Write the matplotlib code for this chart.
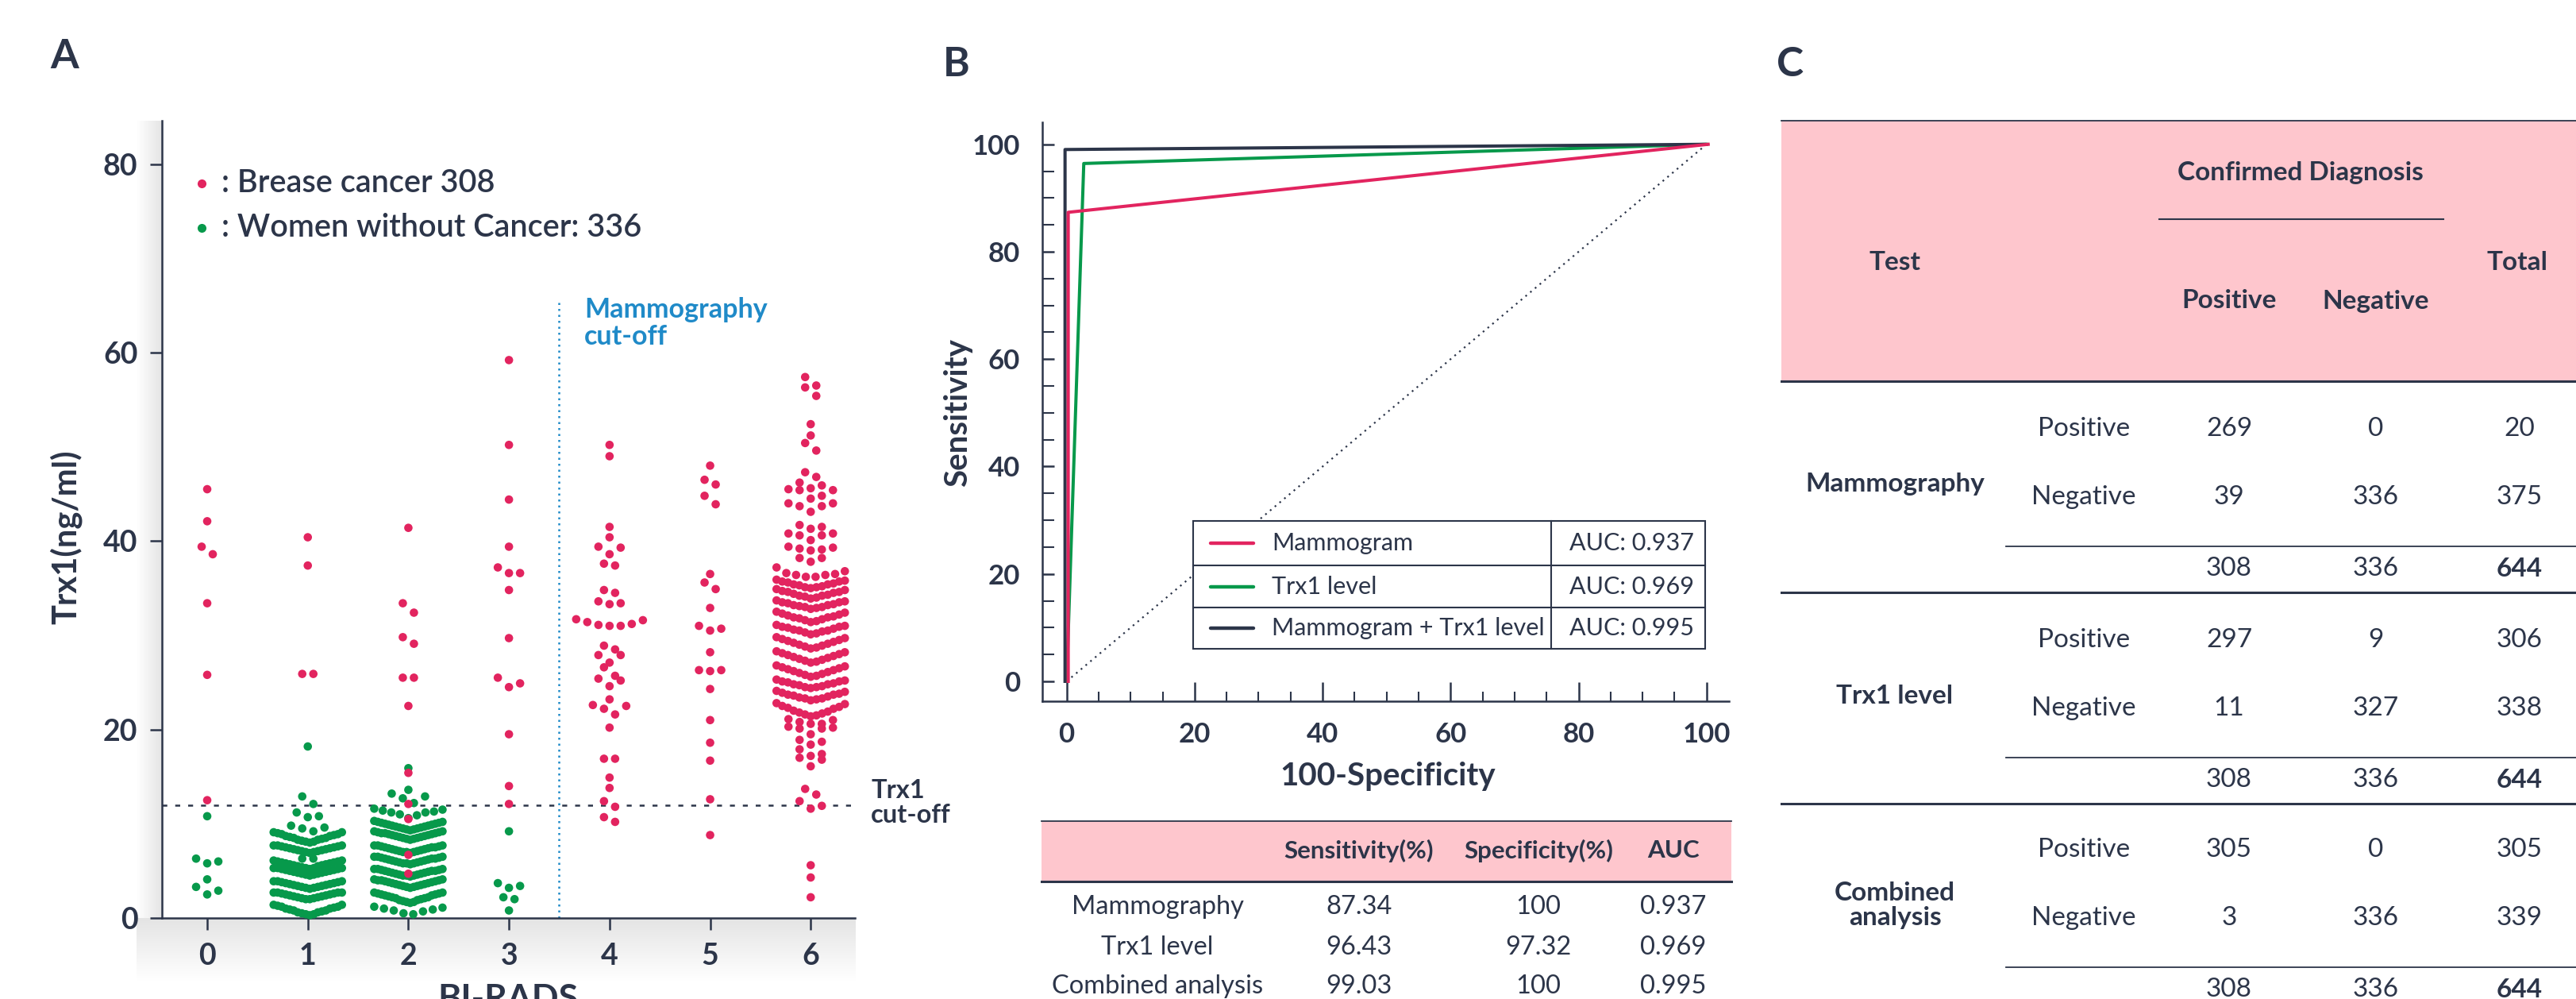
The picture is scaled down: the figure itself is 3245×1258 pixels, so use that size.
import numpy as np
import matplotlib
matplotlib.use('Agg')
import matplotlib.pyplot as plt
import matplotlib.transforms as mtransforms
from matplotlib.colors import LinearSegmentedColormap
from matplotlib.patches import Rectangle

W, H = 3245, 1258
NAVY = '#2c3549'
RED = '#e2245f'
GREEN = '#07994b'
BLUE = '#1f8ac8'
PINK = '#fec6cd'

plt.rcParams['font.family'] = ['Lato', 'DejaVu Sans']

# ---------------- panel A data (Trx1 ng/ml by BI-RADS) ----------------
birads = [0, 1, 2, 3, 4, 5, 6]
trx1_cutoff = 12.0
mammo_cutoff = 3.5

cancer_vals = [
    [45.5, 42.1, 39.4, 38.6, 33.4, 25.8, 12.5],
    [40.4, 37.4, 25.9, 25.9],
    [41.4, 33.4, 32.4, 29.8, 29.1, 25.5, 25.5, 22.5, 15.4, 12.1, 10.5, 6.7, 4.7],
    [59.2, 50.2, 44.4, 39.4, 37.2, 36.6, 36.6, 34.8, 29.7, 25.5, 24.9, 24.5, 19.5, 14.0, 12.1],
    [50.2, 49.0, 41.5, 40.4, 39.4, 39.3, 38.6, 37.6, 37.4, 34.8, 34.5, 33.6, 33.4, 33.3,
     31.7, 31.6, 31.4, 31.2, 31.1, 31.0, 31.0, 28.9, 28.5, 27.9, 27.9, 27.1, 26.6, 25.7,
     25.4, 25.2, 24.6, 23.2, 22.6, 22.5, 22.2, 21.6, 20.2, 16.9, 16.9, 14.9, 13.8, 12.4,
     11.8, 10.7, 10.2],
    [48.0, 46.5, 46.0, 44.8, 43.9, 36.5, 35.6, 34.9, 32.9, 31.0, 30.7, 30.5, 28.2, 26.3,
     26.3, 26.2, 24.3, 21.0, 18.6, 16.7, 12.6, 8.8],
    [57.4, 56.5, 56.3, 55.4, 52.4, 51.2, 50.4, 49.6, 47.3, 46.8, 46.2, 45.9, 45.5, 45.4,
     45.4, 45.6, 44.8, 44.5, 44.0, 43.7, 43.7, 44.0, 43.1, 41.5, 41.7, 41.3, 40.8, 40.6,
     40.6, 40.8, 40.1, 39.4, 39.2, 39.0, 39.1, 39.3, 38.2, 37.8, 38.2, 37.2, 36.6, 36.4,
     36.5, 36.2, 36.2, 36.8, 36.4,
     21.1, 20.8, 20.1, 20.6, 20.2, 20.3, 20.6, 20.1, 21.0, 19.5, 18.4, 17.9, 18.9, 18.7,
     17.2, 17.4, 16.8, 17.0, 16.1, 13.7, 13.1, 12.4, 11.9, 11.6, 5.6, 4.3, 2.2],
]

# dense horizontal bands of the swarm (one list per visible band)
cancer_bands = [[], [], [], [], [], [], [
    [35.0, 35.1, 35.1, 35.2, 35.3, 35.4, 35.4, 35.5, 35.6, 35.7, 35.7, 35.8, 35.9],
    [33.9, 34.0, 34.1, 34.2, 34.2, 34.3, 34.4, 34.5, 34.6, 34.6, 34.7, 34.8, 34.9],
    [32.8, 32.9, 33.0, 33.0, 33.1, 33.2, 33.2, 33.3, 33.4, 33.5, 33.5, 33.6, 33.7],
    [31.4, 31.5, 31.6, 31.7, 31.8, 31.9, 31.9, 32.0, 32.1, 32.2, 32.3, 32.4, 32.5],
    [30.1, 30.2, 30.3, 30.4, 30.5, 30.5, 30.6, 30.7, 30.8, 30.9, 30.9, 31.0, 31.1],
    [28.6, 28.7, 28.8, 28.9, 29.0, 29.1, 29.2, 29.3, 29.4, 29.5, 29.6, 29.7, 29.8],
    [27.1, 27.2, 27.3, 27.4, 27.5, 27.6, 27.7, 27.8, 27.9, 28.0, 28.1, 28.2, 28.3],
    [25.6, 25.7, 25.8, 25.9, 26.0, 26.1, 26.2, 26.3, 26.4, 26.5, 26.6, 26.7, 26.8],
    [24.4, 24.5, 24.5, 24.6, 24.7, 24.8, 24.8, 24.9, 25.0, 25.1, 25.1, 25.2, 25.3],
    [23.1, 23.2, 23.3, 23.3, 23.4, 23.5, 23.6, 23.7, 23.7, 23.8, 23.9, 24.0, 24.1],
    [21.4, 21.5, 21.6, 21.7, 21.8, 21.9, 22.0, 22.2, 22.3, 22.4, 22.5, 22.7, 22.8],
]]

control_vals = [
    [10.8, 6.3, 6.0, 5.8, 4.1, 3.3, 2.9, 2.5],
    [18.2, 12.9, 12.1, 11.2, 10.8, 10.7, 9.8, 9.6, 9.5, 9.2, 6.3, 6.3],
    [15.9, 13.6, 13.2, 12.9, 12.7, 12.2, 11.6, 11.5, 11.4, 11.3, 11.2, 11.2, 11.0, 10.9, 10.6],
    [9.2, 3.7, 3.4, 3.2, 2.2, 2.0, 0.8],
    [], [], [],
]

control_bands = [[], [
    [8.0, 8.1, 8.1, 8.2, 8.3, 8.3, 8.4, 8.5, 8.5, 8.6, 8.7, 8.7, 8.8, 8.9, 8.9, 9.0, 9.1, 9.1],
    [6.9, 7.0, 7.0, 7.1, 7.1, 7.2, 7.2, 7.3, 7.3, 7.4, 7.4, 7.5, 7.5, 7.6, 7.6, 7.7, 7.7, 7.7],
    [5.2, 5.3, 5.3, 5.4, 5.5, 5.5, 5.6, 5.6, 5.7, 5.7, 5.8, 5.8, 5.9, 5.9, 6.0, 6.0, 6.1, 6.1],
    [4.5, 4.6, 4.6, 4.7, 4.7, 4.8, 4.8, 4.9, 4.9, 5.0, 5.0, 5.1, 5.1, 5.2, 5.2, 5.3, 5.3, 5.3],
    [3.1, 3.2, 3.2, 3.3, 3.3, 3.4, 3.4, 3.5, 3.5, 3.6, 3.6, 3.7, 3.7, 3.8, 3.8, 3.9, 3.9, 3.9],
    [2.0, 2.0, 2.1, 2.1, 2.2, 2.2, 2.3, 2.3, 2.4, 2.4, 2.5, 2.5, 2.6, 2.6, 2.7, 2.7, 2.7, 2.7],
    [0.3, 0.4, 0.4, 0.5, 0.6, 0.6, 0.7, 0.8, 0.8, 0.9, 1.0, 1.0, 1.1, 1.2, 1.2, 1.3, 1.4, 1.4],
], [
    [9.3, 9.4, 9.4, 9.5, 9.5, 9.6, 9.6, 9.7, 9.7, 9.8, 9.8, 9.9, 9.9, 10.0, 10.0, 10.1, 10.1, 10.2, 10.2, 10.3],
    [8.3, 8.4, 8.4, 8.5, 8.5, 8.6, 8.6, 8.7, 8.7, 8.8, 8.8, 8.9, 8.9, 9.0, 9.0, 9.0, 9.1, 9.1, 9.2, 9.2],
    [6.9, 7.0, 7.0, 7.0, 7.1, 7.1, 7.2, 7.2, 7.3, 7.3, 7.4, 7.4, 7.5, 7.5, 7.5, 7.6, 7.6, 7.7, 7.7, 7.7],
    [5.7, 5.8, 5.8, 5.8, 5.9, 5.9, 6.0, 6.0, 6.1, 6.1, 6.2, 6.2, 6.3, 6.3, 6.3, 6.4, 6.4, 6.5, 6.5, 6.5],
    [4.4, 4.5, 4.5, 4.5, 4.6, 4.6, 4.7, 4.7, 4.8, 4.8, 4.9, 4.9, 5.0, 5.0, 5.0, 5.1, 5.1, 5.2, 5.2, 5.2],
    [3.2, 3.3, 3.3, 3.4, 3.4, 3.5, 3.5, 3.6, 3.6, 3.7, 3.7, 3.8, 3.8, 3.9, 3.9, 4.0, 4.0, 4.0, 4.1, 4.1],
    [1.6, 1.7, 1.7, 1.8, 1.9, 1.9, 2.0, 2.1, 2.1, 2.2, 2.2, 2.3, 2.4, 2.4, 2.5, 2.5, 2.6, 2.6, 2.7, 2.7],
    [0.4, 0.5, 0.7, 0.8, 0.9, 1.0, 1.1, 1.2],
], [], [], [], []]

# ---------------- panel B data (ROC) ----------------
roc_names = ['Mammogram', 'Trx1 level', 'Mammogram + Trx1 level']
roc_auc = ['AUC: 0.937', 'AUC: 0.969', 'AUC: 0.995']
roc_fpr = [[0, 0, 100], [0, 2.68, 100], [0, 0, 100]]
roc_tpr = [[0, 87.34, 100], [0, 96.43, 100], [0, 99.03, 100]]
roc_colors = [RED, GREEN, NAVY]

perf_head = ['', 'Sensitivity(%)', 'Specificity(%)', 'AUC']
perf_rows = ['Mammography', 'Trx1 level', 'Combined analysis']
perf_sens = ['87.34', '96.43', '99.03']
perf_spec = ['100', '97.32', '100']
perf_auc = ['0.937', '0.969', '0.995']

# ---------------- panel C data (2x2 tables) ----------------
tests = ['Mammography', 'Trx1 level', 'Combined\nanalysis']
test_pos = [[269, 0, 20], [297, 9, 306], [305, 0, 305]]
test_neg = [[39, 336, 375], [11, 327, 338], [3, 336, 339]]
test_tot = [[308, 336, 644], [308, 336, 644], [308, 336, 644]]


def make_rows(vals, bands, bin_h=1.05):
    rows = [list(b) for b in bands]
    auto = []
    for v in sorted(vals):
        if auto and v - auto[-1][0] <= bin_h:
            auto[-1].append(v)
        else:
            auto.append([v])
    return rows + auto


def place(rows, cat, px_per_cat, slot=14, half=43):
    xs, ys = [], []
    for row in rows:
        v = sorted(row)
        n = len(v)
        s = slot if n < 2 else min(slot, 2 * half / (n - 1))
        for k, val in enumerate(v):
            if n % 2:
                off = ((k + 1) // 2) * (1 if k % 2 else -1)
            else:
                off = (k // 2 + 0.5) * (1 if k % 2 == 0 else -1)
            xs.append(cat + off * s / px_per_cat)
            ys.append(val)
    return xs, ys


def frac(x0, y0, x1, y1):
    return [x0 / W, 1 - y1 / H, (x1 - x0) / W, (y1 - y0) / H]


fig = plt.figure(figsize=(W / 100, H / 100), dpi=100)

back = fig.add_axes([0, 0, 1, 1], zorder=0)
axA = fig.add_axes(frac(204, 152, 1077, 1156), zorder=1)
axB = fig.add_axes(frac(1313, 154, 2178, 883), zorder=1)
front = fig.add_axes([0, 0, 1, 1], zorder=3)
for a in (back, front):
    a.axis('off')

# soft shadow along panel A axes
shade = LinearSegmentedColormap.from_list('shade', ['#ffffff', '#e4e4e4'])
back.imshow(np.linspace(0, 1, 64)[None, :], extent=[172, 204, 1175, 152], cmap=shade,
            aspect='auto', interpolation='bicubic')
back.imshow(np.linspace(1, 0, 64)[:, None], extent=[172, 1077, 1235, 1156], cmap=shade,
            aspect='auto', interpolation='bicubic')
for a in (back, front):
    a.set_xlim(0, W)
    a.set_ylim(H, 0)

# ---------------- panel A ----------------
axA.patch.set_alpha(0)
axA.set_xlim(-0.45, 6.44)
axA.set_ylim(0, 84.6)
for sp in ['top', 'right']:
    axA.spines[sp].set_visible(False)
for sp in ['left', 'bottom']:
    axA.spines[sp].set_color(NAVY)
    axA.spines[sp].set_linewidth(1.8)
axA.set_xticks(birads)
axA.set_yticks([0, 20, 40, 60, 80])
axA.tick_params(direction='out', length=11, width=1.8, color=NAVY, labelsize=27,
                labelcolor=NAVY, pad=11)
for lab in axA.get_xticklabels() + axA.get_yticklabels():
    lab.set_fontweight('bold')

ppc = axA.transData.transform((1, 0))[0] - axA.transData.transform((0, 0))[0]
for cat in birads:
    gx, gy = place(make_rows(control_vals[cat], control_bands[cat]), cat, ppc)
    if gx:
        axA.scatter(gx, gy, s=58, color=GREEN, edgecolors='none', zorder=3, clip_on=False)
for cat in birads:
    rx, ry = place(make_rows(cancer_vals[cat], cancer_bands[cat]), cat, ppc)
    if rx:
        axA.scatter(rx, ry, s=58, color=RED, edgecolors='none', zorder=4, clip_on=False)

axA.axhline(trx1_cutoff, color=NAVY, lw=1.8, ls=(0, (2.5, 4)), zorder=2)
axA.vlines(mammo_cutoff, 0, 65.7, color=BLUE, lw=1.8, ls=(0, (1, 2)), zorder=2)

front.text(81, 72, 'A', fontsize=37, weight='bold', color=NAVY, ha='center', va='center')
front.text(83, 676, 'Trx1(ng/ml)', fontsize=30, weight='bold', color=NAVY, rotation=90,
           ha='center', va='center')
front.text(640, 1238, 'BI-RADS', fontsize=32, weight='bold', color=NAVY, ha='center', va='top')
front.plot([254], [231], 'o', color=RED, ms=8, mec='none')
front.plot([254], [287], 'o', color=GREEN, ms=8, mec='none')
front.text(279, 231, ': Brease cancer 308', fontsize=28.5, weight='semibold', color=NAVY,
           va='center')
front.text(279, 287, ': Women without Cancer: 336', fontsize=28.5, weight='semibold',
           color=NAVY, va='center')
front.text(736, 407, 'Mammography\ncut-off', fontsize=24.5, weight='bold', color=BLUE,
           va='center', linespacing=1.05)
front.text(1097, 1011, 'Trx1\ncut-off', fontsize=23.5, weight='bold', color=NAVY,
           va='center', linespacing=1.05)

# ---------------- panel B ----------------
axB.set_xlim(-3.8, 103.5)
axB.set_ylim(-3.7, 104.1)
for sp in ['top', 'right']:
    axB.spines[sp].set_visible(False)
for sp in ['left', 'bottom']:
    axB.spines[sp].set_color(NAVY)
    axB.spines[sp].set_linewidth(1.8)
axB.set_xticks(range(0, 101, 20))
axB.set_yticks(range(0, 101, 20))
axB.set_xticks(range(0, 101, 5), minor=True)
axB.set_yticks(range(0, 101, 5), minor=True)
axB.tick_params(axis='x', which='major', direction='in', length=17, width=1.8, color=NAVY,
                labelsize=25, labelcolor=NAVY, pad=19)
axB.tick_params(axis='x', which='minor', direction='in', length=8.5, width=1.5, color=NAVY)
axB.tick_params(axis='y', which='major', direction='in', length=11, width=1.8, color=NAVY,
                labelsize=25, labelcolor=NAVY, pad=20)
axB.tick_params(axis='y', which='minor', direction='in', length=11, width=1.5, color=NAVY)
for lab in axB.get_xticklabels() + axB.get_yticklabels():
    lab.set_fontweight('bold')

axB.plot([0, 100], [0, 100], color=NAVY, lw=1.6, ls=(0, (1, 2.5)), zorder=1)
shifts = [2, 0, -2]
for fx, ty, c, dx in zip(roc_fpr, roc_tpr, roc_colors, shifts):
    tr = mtransforms.offset_copy(axB.transData, fig=fig, x=dx, y=0, units='dots')
    axB.plot(fx, ty, color=c, lw=2.9, transform=tr, zorder=3 if c == RED else 2)

front.text(1205, 82, 'B', fontsize=37, weight='bold', color=NAVY, ha='center', va='center')
front.text(1207, 520, 'Sensitivity', fontsize=29, weight='bold', color=NAVY, rotation=90,
           ha='center', va='center')
front.text(1748, 977, '100-Specificity', fontsize=29, weight='bold', color=NAVY,
           ha='center', va='center')

# legend table inside ROC
lx0, lx1, ldiv = 1503, 2148, 1954
ly = [656, 712, 765, 817]
front.add_patch(Rectangle((lx0, ly[0]), lx1 - lx0, ly[3] - ly[0], fc='white', ec=NAVY, lw=1.5))
front.plot([ldiv, ldiv], [ly[0], ly[3]], color=NAVY, lw=1.5)
for yy in ly[1:3]:
    front.plot([lx0, lx1], [yy, yy], color=NAVY, lw=1.5)
for i in range(3):
    yc = (ly[i] + ly[i + 1]) / 2
    front.plot([1525, 1579], [yc, yc], color=roc_colors[i], lw=3.2, solid_capstyle='round')
    front.text(1602, yc, roc_names[i], fontsize=22, color=NAVY, va='center')
    front.text(1977, yc, roc_auc[i], fontsize=22, color=NAVY, va='center')

# performance table below ROC
bx0, bx1 = 1312, 2181
bcols = [1458, 1712, 1938, 2108]
front.add_patch(Rectangle((bx0, 1034), bx1 - bx0, 1110 - 1034, fc=PINK, ec='none'))
front.plot([bx0, bx1], [1034, 1034], color=NAVY, lw=1.3)
front.plot([bx0, bx1], [1110, 1110], color=NAVY, lw=2.2)
for x, t in zip(bcols, perf_head):
    front.text(x, 1071, t, fontsize=22.5, weight='bold', color=NAVY, ha='center', va='center')
for i, yy in enumerate([1142, 1193, 1242]):
    for x, t in zip(bcols, [perf_rows[i], perf_sens[i], perf_spec[i], perf_auc[i]]):
        front.text(x, yy, t, fontsize=23.5, color=NAVY, ha='center', va='center')

# ---------------- panel C ----------------
front.text(2255, 82, 'C', fontsize=37, weight='bold', color=NAVY, ha='center', va='center')
cx0 = 2244
front.add_patch(Rectangle((cx0, 152), W - cx0, 480 - 152, fc=PINK, ec='none'))
front.plot([cx0, W], [152, 152], color=NAVY, lw=1.3)
front.plot([cx0, W], [480, 480], color=NAVY, lw=2.2)
front.plot([2720, 3078], [276, 276], color=NAVY, lw=1.5)
hkw = dict(fontsize=24, weight='bold', color=NAVY, ha='center', va='center')
front.text(2898, 217, 'Confirmed Diagnosis', **hkw)
front.text(2387, 331, 'Test', **hkw)
front.text(3171, 331, 'Total', **hkw)
front.text(2808, 379, 'Positive', **hkw)
front.text(2993, 379, 'Negative', **hkw)

col_sub = 2625
col_vals = [2808, 2993, 3174]
group_tops = [480, 746, 1010]
vkw = dict(fontsize=24, color=NAVY, ha='center', va='center')
for g, top in enumerate(group_tops):
    front.text(2387, top + 130, tests[g], fontsize=24, weight='bold', color=NAVY,
               ha='center', va='center', linespacing=1.05)
    front.text(col_sub, top + 60, 'Positive', **vkw)
    front.text(col_sub, top + 146, 'Negative', **vkw)
    for j, x in enumerate(col_vals):
        front.text(x, top + 60, str(test_pos[g][j]), **vkw)
        front.text(x, top + 146, str(test_neg[g][j]), **vkw)
        front.text(x, top + 236, str(test_tot[g][j]), fontsize=24, color=NAVY, ha='center',
                   va='center', weight='bold' if j == 2 else 'normal')
    front.plot([2527, W], [top + 208] * 2, color=NAVY, lw=1.3)
    front.plot([cx0, W], [top + 266] * 2, color=NAVY, lw=2.2)

fig.savefig('out.png', dpi=100)
